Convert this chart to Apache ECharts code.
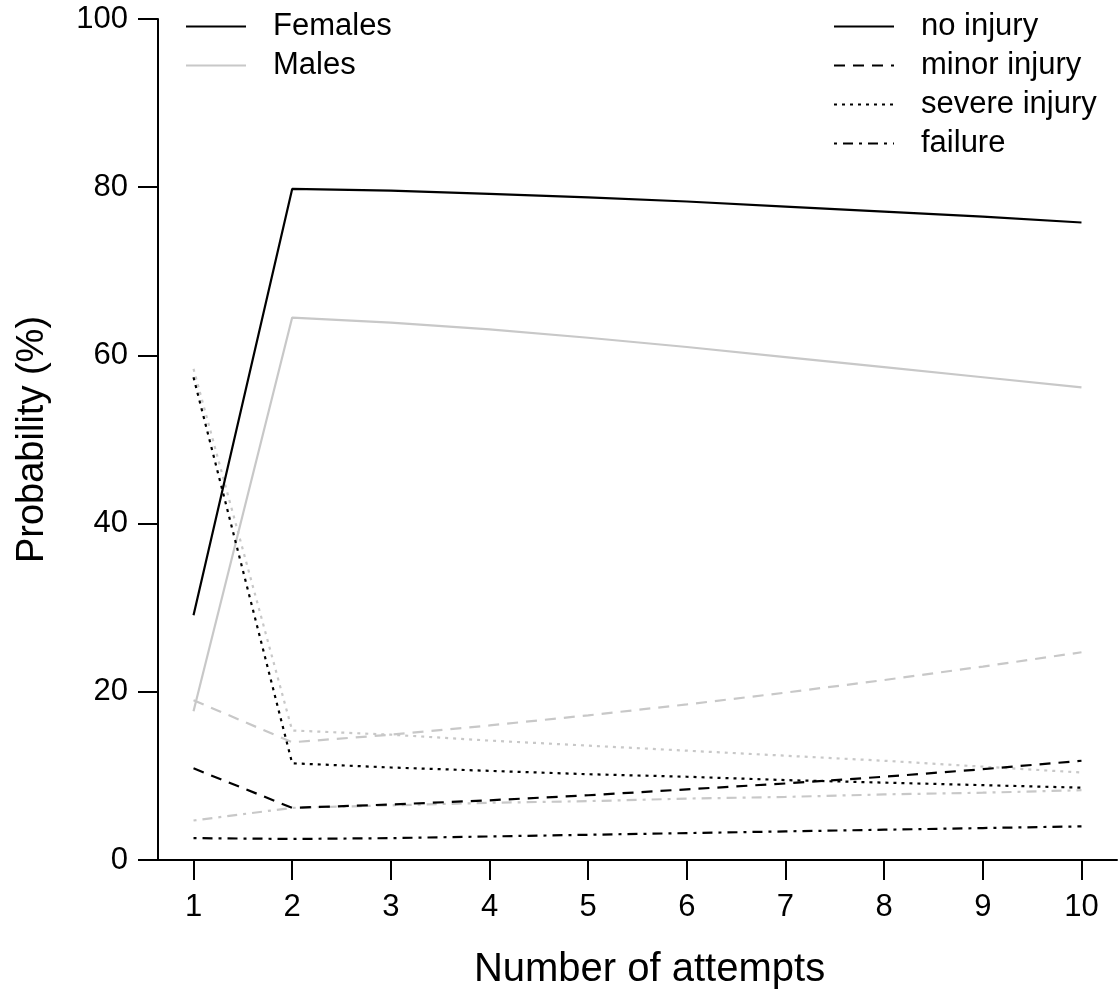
<!DOCTYPE html>
<html>
<head>
<meta charset="utf-8">
<script src="https://cdn.jsdelivr.net/npm/echarts@6/dist/echarts.min.js"></script>
<style>
html,body{margin:0;padding:0;background:#fff;}
#chart{width:1118px;height:995px;}
</style>
</head>
<body>
<div id="chart"></div>
<script>
// ---- data ----
const attempts = [1, 2, 3, 4, 5, 6, 7, 8, 9, 10];
const xTicks = [1, 2, 3, 4, 5, 6, 7, 8, 9, 10];
const yTicks = [0, 20, 40, 60, 80, 100];

const femNoInjury     = [29.1, 79.8, 79.6, 79.2, 78.8, 78.3, 77.7, 77.1, 76.5, 75.8];
const femMinorInjury  = [10.9, 6.2, 6.6, 7.1, 7.7, 8.4, 9.1, 9.9, 10.8, 11.8];
const femSevereInjury = [57.4, 11.5, 11.0, 10.6, 10.2, 9.9, 9.5, 9.2, 8.9, 8.6];
const femFailure      = [2.6, 2.5, 2.6, 2.8, 3.0, 3.2, 3.4, 3.6, 3.8, 4.0];

const maleNoInjury     = [17.7, 64.5, 63.9, 63.1, 62.1, 61.0, 59.8, 58.6, 57.4, 56.2];
const maleMinorInjury  = [19.0, 14.0, 14.9, 16.0, 17.2, 18.5, 19.9, 21.4, 23.0, 24.7];
const maleSevereInjury = [58.4, 15.4, 14.9, 14.2, 13.6, 13.0, 12.4, 11.8, 11.1, 10.4];
const maleFailure      = [4.7, 6.2, 6.5, 6.8, 7.0, 7.3, 7.5, 7.8, 8.0, 8.3];

const sexNames = ['Females', 'Males'];
const outcomeNames = ['no injury', 'minor injury', 'severe injury', 'failure'];

// ---- styles ----
const FONT = '"Liberation Sans", Arial, sans-serif';
const sexColors = {Females: '#000000', Males: '#c8c8c8'};
const outcomeTypes = {
  'no injury': 'solid',
  'minor injury': [11, 8],
  'severe injury': [3, 5],
  'failure': [3, 6, 10, 6]
};
const LW = 2.2;

const seriesData = {
  Females: [femNoInjury, femMinorInjury, femSevereInjury, femFailure],
  Males: [maleNoInjury, maleMinorInjury, maleSevereInjury, maleFailure]
};

const series = [];
sexNames.forEach(sex => {
  outcomeNames.forEach((o, i) => {
    series.push({
      name: sex + ' ' + o,
      type: 'line',
      showSymbol: false,
      symbol: 'none',
      silent: true,
      z: sex === 'Females' ? 3 : 2,
      lineStyle: {color: sexColors[sex], width: LW, type: outcomeTypes[o]},
      data: attempts.map((x, k) => [x, seriesData[sex][i][k]])
    });
  });
});
// legend-only series
sexNames.forEach(sex => {
  series.push({name: sex, type: 'line', symbol: 'none', symbolSize: 0, data: [],
    itemStyle: {color: sexColors[sex]},
    lineStyle: {color: sexColors[sex], width: LW, type: 'solid'}});
});
outcomeNames.forEach(o => {
  series.push({name: o, type: 'line', symbol: 'none', symbolSize: 0, data: [],
    itemStyle: {color: '#000'},
    lineStyle: {color: '#000', width: LW, type: outcomeTypes[o]}});
});

const legendCommon = {
  orient: 'vertical',
  padding: 0,
  itemWidth: 60,
  itemHeight: 39,
  itemGap: 0,
  selectedMode: false,
  itemStyle: {opacity: 0, borderWidth: 0},
  textStyle: {fontFamily: FONT, fontSize: 31, color: '#000', lineHeight: 39, padding: [0, 0, 0, 22]}
};

const option = {
  backgroundColor: '#ffffff',
  animation: false,
  grid: {left: 158, right: 1, top: 19, bottom: 133},
  xAxis: {
    type: 'value',
    min: 0.64, max: 10.36,
    name: 'Number of attempts',
    nameLocation: 'middle',
    nameGap: 90,
    nameTextStyle: {fontFamily: FONT, fontSize: 40, color: '#000', padding: [0, 0, 0, 24]},
    axisLine: {show: true, lineStyle: {color: '#000', width: 2}},
    axisTick: {show: true, length: 20, customValues: xTicks, lineStyle: {color: '#000', width: 2}},
    axisLabel: {customValues: xTicks, margin: 32, fontFamily: FONT, fontSize: 31, color: '#000'},
    splitLine: {show: false}
  },
  yAxis: {
    type: 'value',
    min: 0, max: 100, interval: 20,
    name: 'Probability (%)',
    nameLocation: 'middle',
    nameGap: 106,
    nameTextStyle: {fontFamily: FONT, fontSize: 38, color: '#000'},
    axisLine: {show: true, lineStyle: {color: '#000', width: 2}},
    axisTick: {show: true, length: 20, lineStyle: {color: '#000', width: 2}},
    axisLabel: {margin: 30, fontFamily: FONT, fontSize: 31, color: '#000'},
    splitLine: {show: false}
  },
  legend: [
    Object.assign({}, legendCommon, {left: 185, top: 7, data: sexNames}),
    Object.assign({}, legendCommon, {left: 833, top: 7, data: outcomeNames})
  ],
  series: series
};

const chart = echarts.init(document.getElementById('chart'), null, {renderer: 'canvas'});
chart.setOption(option);
</script>
</body>
</html>
